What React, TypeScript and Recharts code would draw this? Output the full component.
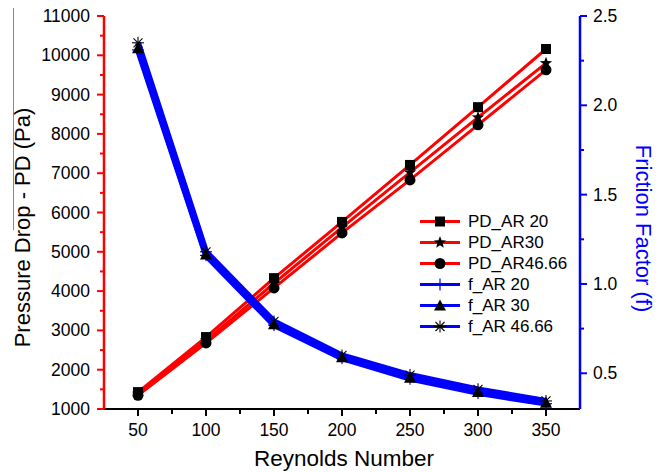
import { LineChart, Line, XAxis, YAxis, Legend } from "recharts";

const reynolds = [50, 100, 150, 200, 250, 300, 350];

// pressure drop (Pa), left axis
const pdAR20 = [1430, 2830, 4330, 5760, 7210, 8680, 10160];
const pdAR30 = [1390, 2740, 4200, 5620, 7020, 8420, 9800];
const pdAR4666 = [1350, 2680, 4080, 5480, 6830, 8230, 9630];

// friction factor, right axis
const fAR20 = [2.31, 1.16, 0.77, 0.585, 0.47, 0.39, 0.33];
const fAR30 = [2.32, 1.165, 0.775, 0.59, 0.475, 0.395, 0.335];
const fAR4666 = [2.35, 1.18, 0.79, 0.6, 0.49, 0.41, 0.345];

const xTicks = [50, 75, 100, 125, 150, 175, 200, 225, 250, 275, 300, 325, 350];
const leftTicks = [
  1000, 1500, 2000, 2500, 3000, 3500, 4000, 4500, 5000, 5500, 6000, 6500, 7000,
  7500, 8000, 8500, 9000, 9500, 10000, 10500, 11000,
];
const rightTicks = [0.5, 0.75, 1, 1.25, 1.5, 1.75, 2, 2.25, 2.5];

const RED = "#ff0000";
const BLUE = "#0000ff";
const FONT = "'Liberation Sans', Arial, sans-serif";

const series = [
  { key: "pd20", name: "PD_AR 20", axis: "left", color: RED, width: 3, marker: "square", values: pdAR20 },
  { key: "pd30", name: "PD_AR30", axis: "left", color: RED, width: 3, marker: "star", values: pdAR30 },
  { key: "pd4666", name: "PD_AR46.66", axis: "left", color: RED, width: 3, marker: "circle", values: pdAR4666 },
  { key: "f20", name: "f_AR 20", axis: "right", color: BLUE, width: 6, marker: "plus", values: fAR20 },
  { key: "f30", name: "f_AR 30", axis: "right", color: BLUE, width: 6, marker: "triangle", values: fAR30 },
  { key: "f4666", name: "f_AR 46.66", axis: "right", color: BLUE, width: 6, marker: "asterisk", values: fAR4666 },
];

const data = reynolds.map((re, i) => {
  const row: any = { re };
  series.forEach((s) => (row[s.key] = s.values[i]));
  return row;
});

const starPoints = (cx: number, cy: number, r: number) => {
  const pts: string[] = [];
  for (let i = 0; i < 10; i++) {
    const rad = i % 2 === 0 ? r : r * 0.42;
    const a = -Math.PI / 2 + (i * Math.PI) / 5;
    pts.push(`${cx + rad * Math.cos(a)},${cy + rad * Math.sin(a)}`);
  }
  return pts.join(" ");
};

const Marker = ({ type, cx, cy }: any) => {
  if (cx == null || cy == null) return null;
  switch (type) {
    case "square":
      return <rect x={cx - 5} y={cy - 5} width={10} height={10} fill="#000" />;
    case "star":
      return <polygon points={starPoints(cx, cy, 6.5)} fill="#000" />;
    case "circle":
      return <circle cx={cx} cy={cy} r={5.5} fill="#000" />;
    case "plus":
      return (
        <g stroke={BLUE} strokeWidth={1.2}>
          <line x1={cx - 6} x2={cx + 6} y1={cy} y2={cy} />
          <line x1={cx} x2={cx} y1={cy - 6} y2={cy + 6} />
        </g>
      );
    case "triangle":
      return <polygon points={`${cx},${cy - 6} ${cx - 6},${cy + 5} ${cx + 6},${cy + 5}`} fill="#000" />;
    case "asterisk":
      return (
        <g stroke="#000" strokeWidth={1.1}>
          <line x1={cx - 6} x2={cx + 6} y1={cy} y2={cy} />
          <line x1={cx} x2={cx} y1={cy - 6} y2={cy + 6} />
          <line x1={cx - 4.5} x2={cx + 4.5} y1={cy - 4.5} y2={cy + 4.5} />
          <line x1={cx - 4.5} x2={cx + 4.5} y1={cy + 4.5} y2={cy - 4.5} />
        </g>
      );
    default:
      return null;
  }
};

const XTick = ({ x, y, payload }: any) => {
  const major = payload.value % 50 === 0;
  return (
    <g>
      <line x1={x} x2={x} y1={y} y2={y + (major ? 7 : 5)} stroke="#000" strokeWidth={2} />
      {major && (
        <text x={x} y={y + 27} textAnchor="middle" fontSize={17.5} fontFamily={FONT} fill="#000">
          {payload.value}
        </text>
      )}
    </g>
  );
};

const TopTick = ({ x, y, payload }: any) => {
  const major = payload.value % 50 === 0;
  return <line x1={x} x2={x} y1={y} y2={y + (major ? 6 : 4)} stroke="#000" strokeWidth={2} />;
};

const LeftTick = ({ x, y, payload }: any) => {
  const major = payload.value % 1000 === 0;
  return (
    <g>
      <line x1={x} x2={x - (major ? 7 : 4)} y1={y} y2={y} stroke={RED} strokeWidth={2} />
      {major && (
        <text x={x - 14} y={y} textAnchor="end" dominantBaseline="central" fontSize={17.5} fontFamily={FONT} fill="#000">
          {payload.value}
        </text>
      )}
    </g>
  );
};

const RightTick = ({ x, y, payload }: any) => {
  const major = Math.abs(payload.value * 2 - Math.round(payload.value * 2)) < 1e-6;
  return (
    <g>
      <line x1={x} x2={x + (major ? 7 : 4)} y1={y} y2={y} stroke={BLUE} strokeWidth={2} />
      {major && (
        <text x={x + 13} y={y} textAnchor="start" dominantBaseline="central" fontSize={17.5} fontFamily={FONT} fill="#000">
          {payload.value.toFixed(1)}
        </text>
      )}
    </g>
  );
};

const LegendBox = () => (
  <svg width={170} height={series.length * 21}>
    {series.map((s, i) => {
      const cy = i * 21 + 10.5;
      return (
        <g key={s.key}>
          <line x1={5} x2={45} y1={cy} y2={cy} stroke={s.color} strokeWidth={3} />
          <Marker type={s.marker} cx={25} cy={cy} />
          <text x={53} y={cy} dominantBaseline="central" fontSize={17} fontFamily={FONT} fill="#000">
            {s.name}
          </text>
        </g>
      );
    })}
  </svg>
);

export default function App() {
  return (
    <div style={{ position: "absolute", left: 0, top: 0, width: 662, height: 472, background: "#fff" }}>
      <div style={{ position: "absolute", left: 13, top: 8, width: 1, height: 222, background: "#888" }} />
      <LineChart width={662} height={472} data={data} margin={{ top: 16, right: 0, bottom: 0, left: 0 }}>
        <XAxis
          dataKey="re"
          type="number"
          domain={[25, 375]}
          ticks={xTicks}
          interval={0}
          height={63}
          tickSize={0}
          tickMargin={0}
          tick={<XTick />}
          axisLine={{ stroke: "#000", strokeWidth: 2 }}
          label={{
            content: ({ viewBox }: any) => (
              <text
                x={viewBox.x + viewBox.width / 2 + 2}
                y={viewBox.y + 49}
                textAnchor="middle"
                dominantBaseline="central"
                fontSize={22.5}
                fontFamily={FONT}
                fill="#000"
              >
                Reynolds Number
              </text>
            ),
          }}
        />
        <XAxis
          xAxisId="top"
          orientation="top"
          dataKey="re"
          type="number"
          domain={[25, 375]}
          ticks={xTicks}
          interval={0}
          height={0}
          tickSize={0}
          tickMargin={0}
          tick={<TopTick />}
          axisLine={{ stroke: "#000", strokeWidth: 2 }}
        />
        <YAxis
          yAxisId="left"
          orientation="left"
          width={104}
          domain={[1000, 11000]}
          ticks={leftTicks}
          interval={0}
          allowDataOverflow
          tickSize={0}
          tickMargin={0}
          tick={<LeftTick />}
          axisLine={{ stroke: RED, strokeWidth: 2.5 }}
          label={{
            content: ({ viewBox }: any) => {
              const cx = viewBox.x + 22;
              const cy = viewBox.y + viewBox.height / 2 + 15;
              return (
                <text
                  x={cx}
                  y={cy}
                  transform={`rotate(-90 ${cx} ${cy})`}
                  textAnchor="middle"
                  dominantBaseline="central"
                  fontSize={22}
                  fontFamily={FONT}
                  fill="#000"
                >
                  Pressure Drop - PD (Pa)
                </text>
              );
            },
          }}
        />
        <YAxis
          yAxisId="right"
          orientation="right"
          width={82}
          domain={[0.3, 2.5]}
          ticks={rightTicks}
          interval={0}
          allowDataOverflow
          tickSize={0}
          tickMargin={0}
          tick={<RightTick />}
          axisLine={{ stroke: BLUE, strokeWidth: 2.5 }}
          label={{
            content: ({ viewBox }: any) => {
              const cx = viewBox.x + 63;
              const cy = viewBox.y + viewBox.height / 2 + 16;
              return (
                <text
                  x={cx}
                  y={cy}
                  transform={`rotate(90 ${cx} ${cy})`}
                  textAnchor="middle"
                  dominantBaseline="central"
                  fontSize={22}
                  fontFamily={FONT}
                  fill={BLUE}
                >
                  Friction Factor (f)
                </text>
              );
            },
          }}
        />
        {series.map((s) => (
          <Line
            key={s.key}
            yAxisId={s.axis}
            dataKey={s.key}
            name={s.name}
            type="linear"
            stroke={s.color}
            strokeWidth={s.width}
            isAnimationActive={false}
            activeDot={false}
            dot={(p: any) => <Marker key={`${s.key}-${p.index}`} type={s.marker} cx={p.cx} cy={p.cy} />}
          />
        ))}
        <Legend
          layout="vertical"
          align="center"
          verticalAlign="middle"
          content={() => <LegendBox />}
          wrapperStyle={{ position: "absolute", left: 415, top: 211, width: 170 }}
        />
      </LineChart>
    </div>
  );
}
